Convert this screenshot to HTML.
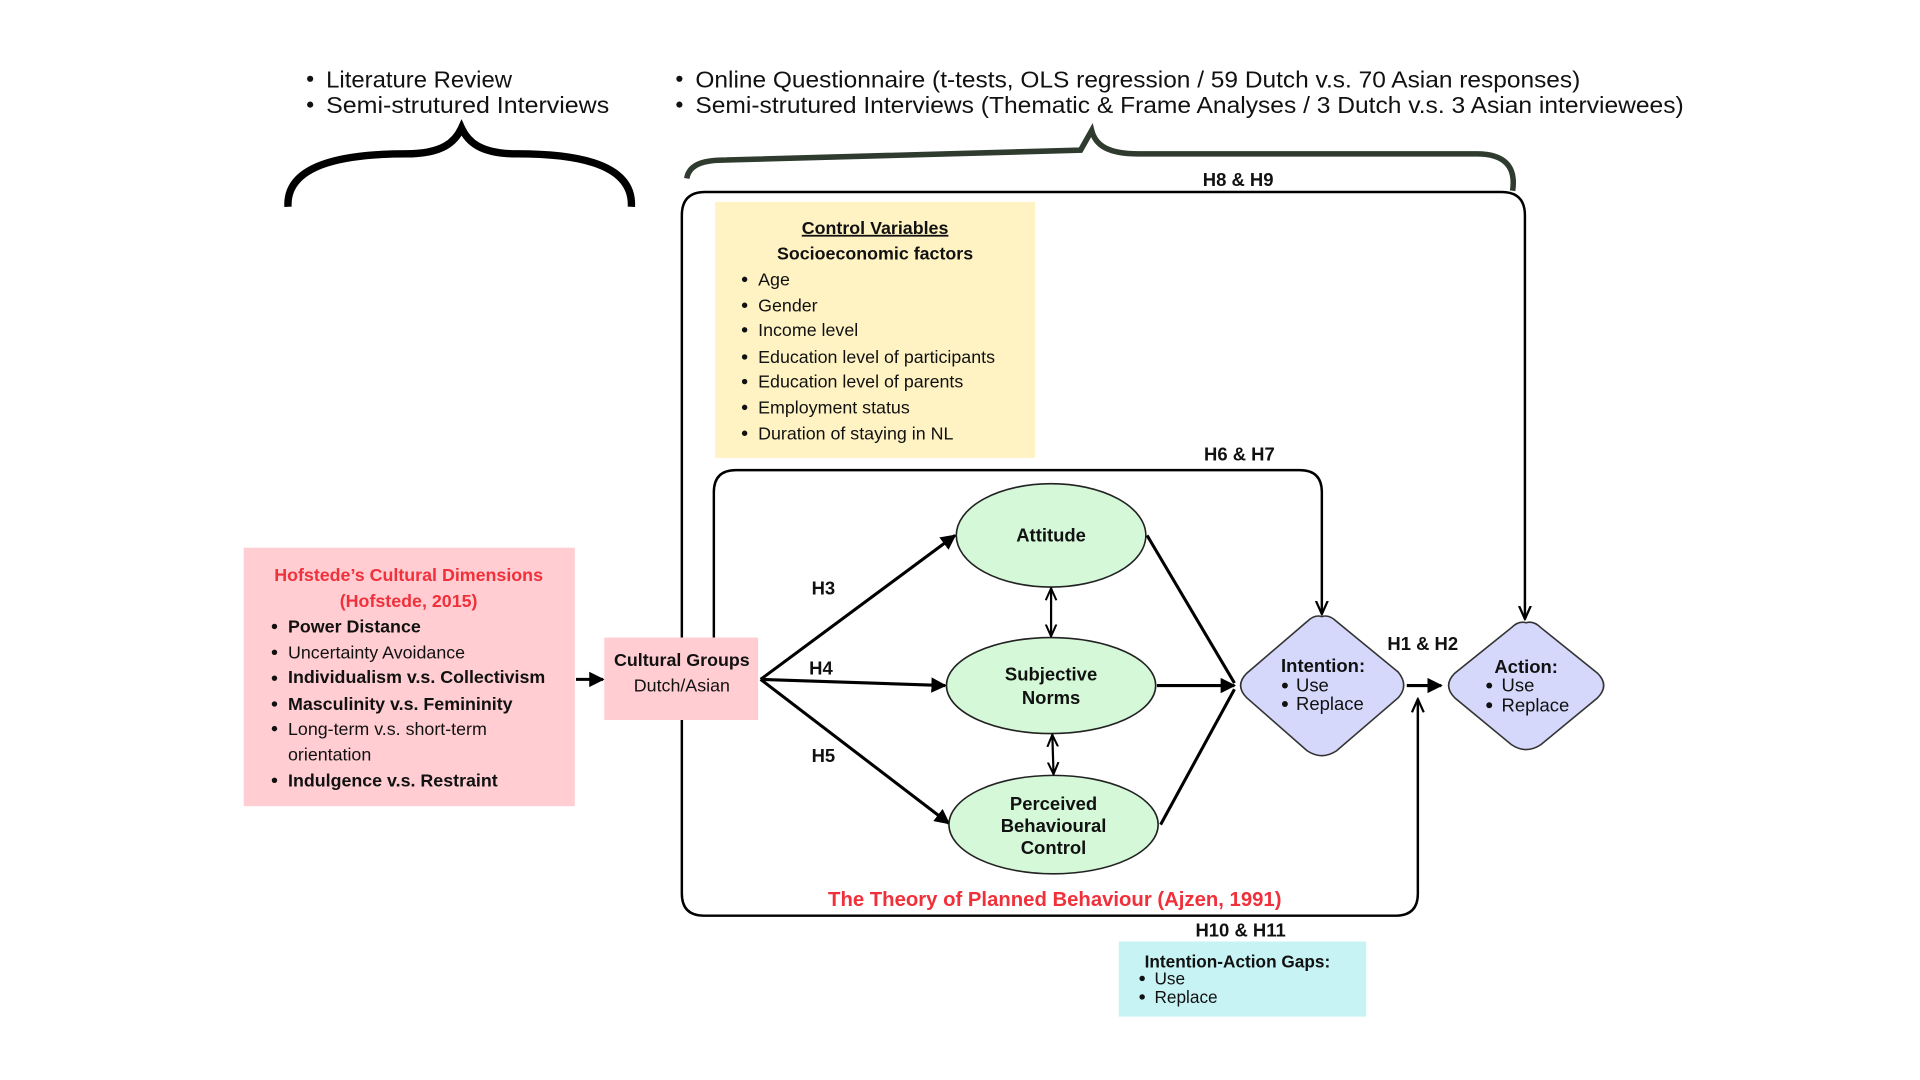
<!DOCTYPE html>
<html><head><meta charset="utf-8"><style>
html,body{margin:0;padding:0;background:#fff;}
svg{display:block;}
text{font-family:"Liberation Sans",sans-serif;fill:#111;}
.b{font-weight:bold;}
</style></head><body>
<svg width="1920" height="1080" viewBox="0 0 1560 877.5" xmlns="http://www.w3.org/2000/svg">
<defs>
<marker id="a" viewBox="0 0 10 10" refX="9" refY="5" markerWidth="5" markerHeight="5" orient="auto-start-reverse"><path d="M0,0 L10,5 L0,10 z" fill="#000"/></marker>
<marker id="o" viewBox="0 0 10 10" refX="9" refY="5" markerWidth="6" markerHeight="6" orient="auto-start-reverse"><path d="M0,1 L9,5 L0,9" fill="none" stroke="#000" stroke-width="1.5"/></marker>
</defs>
<g font-size="19">
<circle cx="252" cy="64" r="2.5" fill="#111"/><text x="265" y="71" textLength="151" lengthAdjust="spacingAndGlyphs">Literature Review</text>
<circle cx="252" cy="85" r="2.5" fill="#111"/><text x="265" y="92" textLength="230" lengthAdjust="spacingAndGlyphs">Semi-strutured Interviews</text>
<circle cx="552" cy="64" r="2.5" fill="#111"/><text x="565" y="71" textLength="719" lengthAdjust="spacingAndGlyphs">Online Questionnaire (t-tests, OLS regression / 59 Dutch v.s. 70 Asian responses)</text>
<circle cx="552" cy="85" r="2.5" fill="#111"/><text x="565" y="92" textLength="803" lengthAdjust="spacingAndGlyphs">Semi-strutured Interviews (Thematic &amp; Frame Analyses / 3 Dutch v.s. 3 Asian interviewees)</text>
</g>
<path d="M234,168 C232,130 290,125 330,125 C360,125 370,115 375,104 C380,115 390,125 420,125 C460,125 515,130 513,168" fill="none" stroke="#000" stroke-width="6"/>
<path d="M558,145 C560,132 575,130 590,130 L878,122 L887,106 C890,118 900,125 925,125 L1200,125 C1222,125 1232,135 1229,155" fill="none" stroke="#2e3b2e" stroke-width="4.5"/>
<path d="M554,518 L554,175 Q554,156 573,156 L1220,156 Q1239,156 1239,175 L1239,503" fill="none" stroke="#000" stroke-width="2" marker-end="url(#o)"/>
<path d="M554,585 L554,726 Q554,744 572,744 L1134,744 Q1152,744 1152,726 L1152,568" fill="none" stroke="#000" stroke-width="2" marker-end="url(#o)"/>
<text x="1006" y="151" font-size="15" class="b" text-anchor="middle">H8 &amp; H9</text>
<rect x="581" y="164" width="260" height="208" fill="#fff3c4"/>
<g font-size="14.5">
<text x="711" y="190" class="b" text-anchor="middle" text-decoration="underline">Control Variables</text>
<text x="711" y="211" class="b" text-anchor="middle">Socioeconomic factors</text>
<circle cx="605" cy="227" r="2.2" fill="#111"/><text x="616" y="232">Age</text>
<circle cx="605" cy="248" r="2.2" fill="#111"/><text x="616" y="253">Gender</text>
<circle cx="605" cy="268" r="2.2" fill="#111"/><text x="616" y="273">Income level</text>
<circle cx="605" cy="290" r="2.2" fill="#111"/><text x="616" y="295">Education level of participants</text>
<circle cx="605" cy="310" r="2.2" fill="#111"/><text x="616" y="315">Education level of parents</text>
<circle cx="605" cy="331" r="2.2" fill="#111"/><text x="616" y="336">Employment status</text>
<circle cx="605" cy="352" r="2.2" fill="#111"/><text x="616" y="357">Duration of staying in NL</text>
</g>
<path d="M580,518 L580,400 Q580,382 598,382 L1056,382 Q1074,382 1074,400 L1074,499" fill="none" stroke="#000" stroke-width="2" marker-end="url(#o)"/>
<text x="1007" y="374" font-size="15" class="b" text-anchor="middle">H6 &amp; H7</text>
<rect x="198" y="445" width="269" height="210" fill="#ffcdd2"/>
<g font-size="14.5">
<text x="332" y="472" class="b" text-anchor="middle" style="fill:#f0303a">Hofstede’s Cultural Dimensions</text>
<text x="332" y="493" class="b" text-anchor="middle" style="fill:#f0303a">(Hofstede, 2015)</text>
<circle cx="223" cy="509" r="2.2" fill="#111"/><text x="234" y="514" class="b">Power Distance</text>
<circle cx="223" cy="530" r="2.2" fill="#111"/><text x="234" y="535">Uncertainty Avoidance</text>
<circle cx="223" cy="551" r="2.2" fill="#111"/><text x="234" y="555" class="b">Individualism v.s. Collectivism</text>
<circle cx="223" cy="572" r="2.2" fill="#111"/><text x="234" y="577" class="b">Masculinity v.s. Femininity</text>
<circle cx="223" cy="592" r="2.2" fill="#111"/><text x="234" y="597">Long-term v.s. short-term</text>
<text x="234" y="618">orientation</text>
<circle cx="223" cy="634" r="2.2" fill="#111"/><text x="234" y="639" class="b">Indulgence v.s. Restraint</text>
</g>
<line x1="468" y1="552" x2="490" y2="552" stroke="#000" stroke-width="2.5" marker-end="url(#a)"/>
<rect x="491" y="518" width="125" height="67" fill="#ffcdd2"/>
<text x="554" y="541" font-size="14.5" class="b" text-anchor="middle">Cultural Groups</text>
<text x="554" y="562" font-size="14.5" text-anchor="middle">Dutch/Asian</text>
<g stroke="#000" stroke-width="2.5" fill="none" marker-end="url(#a)">
<line x1="618" y1="552" x2="776" y2="435"/>
<line x1="618" y1="552" x2="768" y2="557"/>
<line x1="618" y1="552" x2="771" y2="669"/>
</g>
<g font-size="15">
<text x="669" y="483" text-anchor="middle" class="b">H3</text>
<text x="667" y="548" text-anchor="middle" class="b">H4</text>
<text x="669" y="619" text-anchor="middle" class="b">H5</text>
</g>
<g fill="#d4f8d8" stroke="#222" stroke-width="1.3">
<ellipse cx="854" cy="435" rx="77" ry="42"/>
<ellipse cx="854" cy="557" rx="85" ry="39"/>
<ellipse cx="856" cy="670" rx="85" ry="40"/>
</g>
<g font-size="15" text-anchor="middle">
<text x="854" y="440" class="b">Attitude</text>
<text x="854" y="553" class="b">Subjective</text>
<text x="854" y="572" class="b">Norms</text>
<text x="856" y="658" class="b">Perceived</text>
<text x="856" y="676" class="b">Behavioural</text>
<text x="856" y="694" class="b">Control</text>
</g>
<g stroke="#000" stroke-width="1.8" marker-start="url(#o)" marker-end="url(#o)">
<line x1="854" y1="478" x2="854" y2="517"/>
<line x1="855" y1="597" x2="856" y2="629"/>
</g>
<g stroke="#000" stroke-width="2.5" fill="none">
<line x1="932" y1="435" x2="1003" y2="555"/>
<line x1="940" y1="557" x2="1003" y2="557" marker-end="url(#a)"/>
<line x1="943" y1="670" x2="1003" y2="560"/>
</g>
<path d="M1074,501 Q1080,499 1086,505 L1136,546 Q1145,557 1136,567 L1086,610 Q1074,618 1062,610 L1013,567 Q1003,557 1013,547 L1062,505 Q1068,499 1074,501 z" fill="#d5d8fb" stroke="#333" stroke-width="1.3"/>
<path d="M1240,506 Q1246,504 1252,510 L1298,547 Q1308,557 1298,567 L1252,605 Q1240,613 1228,605 L1182,567 Q1172,557 1182,547 L1228,510 Q1234,504 1240,506 z" fill="#d5d8fb" stroke="#333" stroke-width="1.3"/>
<g font-size="15">
<text x="1075" y="546" class="b" text-anchor="middle">Intention:</text>
<circle cx="1044" cy="557" r="2.4" fill="#111"/><text x="1053" y="562">Use</text>
<circle cx="1044" cy="572" r="2.4" fill="#111"/><text x="1053" y="577">Replace</text>
<text x="1240" y="547" class="b" text-anchor="middle">Action:</text>
<circle cx="1210" cy="557" r="2.4" fill="#111"/><text x="1220" y="562">Use</text>
<circle cx="1210" cy="573" r="2.4" fill="#111"/><text x="1220" y="578">Replace</text>
</g>
<line x1="1143" y1="557" x2="1171" y2="557" stroke="#000" stroke-width="2.5" marker-end="url(#a)"/>
<text x="1156" y="528" font-size="15" class="b" text-anchor="middle">H1 &amp; H2</text>
<text x="857" y="736" font-size="16.5" class="b" text-anchor="middle" style="fill:#f0303a">The Theory of Planned Behaviour (Ajzen, 1991)</text>
<text x="1008" y="761" font-size="15" class="b" text-anchor="middle">H10 &amp; H11</text>
<rect x="909" y="765" width="201" height="61" fill="#c7f3f5"/>
<g font-size="14">
<text x="930" y="786" class="b">Intention-Action Gaps:</text>
<circle cx="928" cy="795" r="2.2" fill="#111"/><text x="938" y="800">Use</text>
<circle cx="928" cy="810" r="2.2" fill="#111"/><text x="938" y="815">Replace</text>
</g>
</svg>
</body></html>
